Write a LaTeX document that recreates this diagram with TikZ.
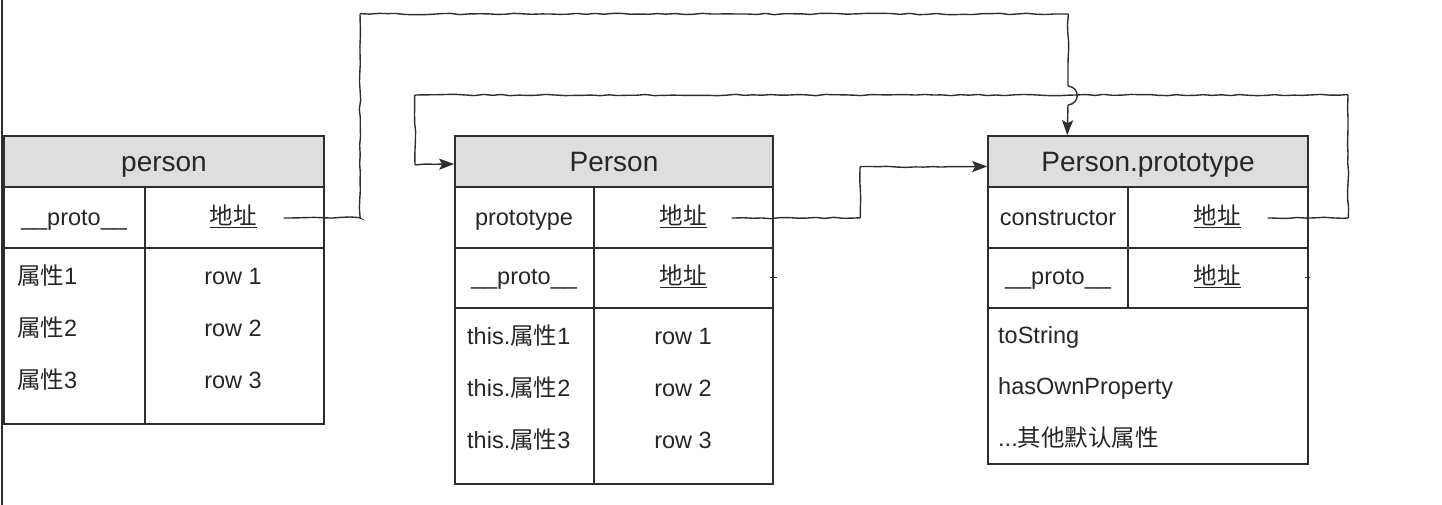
\documentclass[tikz,border=0pt]{standalone}
\usepackage{fontspec}
\setmainfont{Liberation Sans}
\newfontfamily\cjk{Noto Sans CJK SC}
\usetikzlibrary{arrows.meta,decorations.pathmorphing,calc}
\definecolor{ink}{HTML}{2E2E2E}
\definecolor{txt}{HTML}{262626}
\definecolor{hdrgrey}{HTML}{DEDEDE}
\newcommand{\addr}{\underline{\cjk 地址}}
\begin{document}
\begin{tikzpicture}[x=1pt,y=-1pt,
  frame/.style={draw=ink,line width=1.6pt},
  hdr/.style={draw=ink,fill=hdrgrey,line width=1.6pt,minimum height=51pt,inner sep=0pt},
  htx/.style={text=txt,inner sep=0pt,anchor=base,font=\fontsize{28}{30}\selectfont},
  tx/.style={text=txt,inner sep=0pt,anchor=base,font=\fontsize{23.5}{26}\selectfont},
  ltx/.style={tx,anchor=base west},
  conn/.style={draw=ink,line width=1.4pt,
    decoration={random steps,segment length=9pt,amplitude=0.7pt,pre length=3pt,post length=20pt},
    rounded corners=0.8pt,-{Stealth[length=15pt,width=11pt,inset=3pt]}},
  plain/.style={draw=ink,line width=1pt}]
\useasboundingbox (0,0) rectangle (1442,505);
\draw[draw=ink,line width=1.6pt] (2,0) -- (2,505);

% ---- person ----
\node[hdr,minimum width=320pt] (aH) at (164,161.5) {};
\node[htx] (aT) at (164,172) {person};
\draw[frame] (4,187) rectangle (324,424);
\draw[frame] (4,248) -- (324,248);
\draw[frame] (145,187) -- (145,424);
\node[tx] (aP) at (74,225) {\_\_proto\_\_};
\node[tx] (aA) at (233,224) {\addr};
\node[ltx] (a1) at (17,284) {{\cjk 属性}1};
\node[tx] (ar1) at (233,284) {row 1};
\node[ltx] (a2) at (17,336) {{\cjk 属性}2};
\node[tx] (ar2) at (233,336) {row 2};
\node[ltx] (a3) at (17,388) {{\cjk 属性}3};
\node[tx] (ar3) at (233,388) {row 3};

% ---- Person ----
\node[hdr,minimum width=318pt] (bH) at (614,161.5) {};
\node[htx] (bT) at (614,172) {Person};
\draw[frame] (455,187) rectangle (773,484);
\draw[frame] (455,248) -- (773,248);
\draw[frame] (455,308) -- (773,308);
\draw[frame] (594,187) -- (594,484);
\node[tx] (bP) at (524,225) {prototype};
\node[tx] (bA) at (683,224) {\addr};
\node[tx] (bQ) at (524,284.5) {\_\_proto\_\_};
\node[tx] (bB) at (683,284) {\addr};
\node[ltx] (b1) at (467,344) {this.{\cjk 属性}1};
\node[tx] (br1) at (683,344) {row 1};
\node[ltx] (b2) at (467,396) {this.{\cjk 属性}2};
\node[tx] (br2) at (683,396) {row 2};
\node[ltx] (b3) at (467,448) {this.{\cjk 属性}3};
\node[tx] (br3) at (683,448) {row 3};

% ---- Person.prototype ----
\node[hdr,minimum width=320pt] (cH) at (1148,161.5) {};
\node[htx] (cT) at (1148,172) {Person.prototype};
\draw[frame] (988,187) rectangle (1308,464);
\draw[frame] (988,248) -- (1308,248);
\draw[frame] (988,308) -- (1308,308);
\draw[frame] (1128,187) -- (1128,308);
\node[tx] (cC) at (1058,225) {constructor};
\node[tx] (cA) at (1217,224) {\addr};
\node[tx] (cQ) at (1058,284.5) {\_\_proto\_\_};
\node[tx] (cB) at (1217,284) {\addr};
\node[ltx] (c1) at (998,343) {toString};
\node[ltx] (c2) at (998,394) {hasOwnProperty};
\node[ltx] (c3) at (998,446) {...{\cjk 其他默认属性}};

% ---- small ticks ----
\coordinate (tk1) at (770,277);
\coordinate (tk2) at (1305,277);
\draw[plain] (tk1) -- ++(7,0);
\draw[plain] (tk2) -- ++(5,0);

% ---- connectors ----
\coordinate (s1) at ($(aA.base east)+(27,-6)$);
\coordinate (s2) at ($(cA.base east)+(27,-6)$);
\coordinate (s3) at ($(bA.base east)+(25,-6)$);
\coordinate (t1) at ($(cH.north west)+(80,0)$);
\coordinate (t2) at ($(bH.west)+(0,2.5)$);
\coordinate (t3) at ($(cH.west)+(0,5)$);

\draw[conn] (s1) decorate{-- (360,218) -- (360,14) -- (1068,14) -- (1068,86)}
  .. controls (1080,88) and (1080,103) .. (1068,105) decorate{-- (t1)};
\draw[conn] (s2) decorate{-- (1348,218) -- (1348,95) -- (415,95) -- (415,164.5) -- (t2)};
\draw[conn] (s3) decorate{-- (860,218) -- (860,167) -- (t3)};
\end{tikzpicture}
\end{document}
